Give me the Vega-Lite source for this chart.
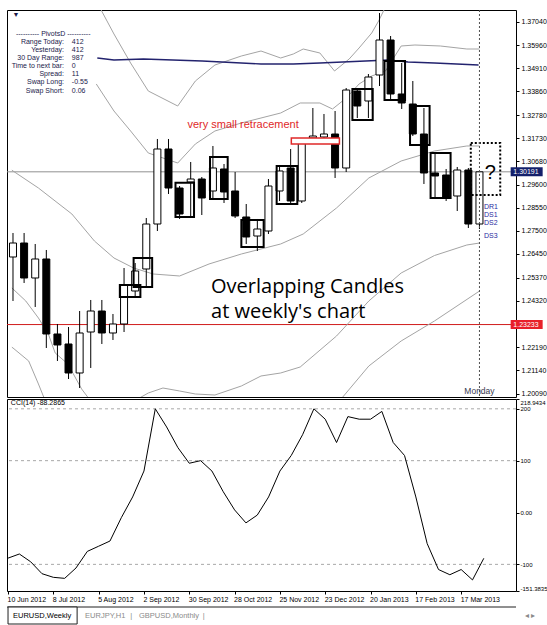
{
"$schema":"https://vega.github.io/schema/vega-lite/v6.json",
"padding":{"left":6,"top":9,"right":0,"bottom":0},
"background":"white",
"bounds":"flush",
"spacing":2,
"config":{"view":{"stroke":"black","strokeWidth":1},"font":"Liberation Sans","axis":{"labelFont":"Liberation Sans","labelFontSize":7,"labelColor":"#000000","tickColor":"#000000","tickWidth":1,"domain":false,"grid":false,"labelOverlap":false,"labelBound":false}},
"vconcat":[
{
"width":509,"height":387,
"layer":[
{"data":{"values":[{"lv":1.30191,"k":"bid"},{"lv":1.23233,"k":"red"}]},
 "mark":{"type":"rule","strokeWidth":1},
 "encoding":{"y":{"field":"lv","type":"quantitative","title":null,"scale":{"domain":[1.19932,1.37564],"nice":false,"zero":false},
    "axis":{"orient":"right","values":[1.3704,1.3596,1.3491,1.3386,1.3278,1.3173,1.3068,1.296,1.2855,1.275,1.2645,1.2537,1.2432,1.2219,1.2114,1.2009],"tickCount":100,"format":".5f","tickSize":3,"labelPadding":2,"labelOverlap":false,"labelBound":false,"labelFlush":false,"labelFontSize":7}},
  "color":{"condition":{"test":"datum.k=='red'","value":"#d01c1c"},"value":"#909090"}}},
{"data":{"values":[
{"b":"mid","i":-0.1,"p":1.3027},{"b":"mid","i":0,"p":1.30229},{"b":"mid","i":2.29,"p":1.29454},{"b":"mid","i":5.3,"p":1.2827},{"b":"mid","i":7.33,"p":1.2704},{"b":"mid","i":9.09,"p":1.26265},{"b":"mid","i":10.86,"p":1.25809},{"b":"mid","i":12.62,"p":1.25536},{"b":"mid","i":15.0,"p":1.25445},{"b":"mid","i":17.65,"p":1.25992},{"b":"mid","i":20.56,"p":1.26447},{"b":"mid","i":24.1,"p":1.26903},{"b":"mid","i":26.13,"p":1.27359},{"b":"mid","i":29.13,"p":1.28543},{"b":"mid","i":32.04,"p":1.2991},{"b":"mid","i":34.95,"p":1.30684},{"b":"mid","i":37.95,"p":1.3114},{"b":"mid","i":40.86,"p":1.31368},{"b":"mid","i":42.01,"p":1.31368},
{"b":"up2","i":7.5,"p":1.34193},{"b":"up2","i":9.09,"p":1.32962},{"b":"up2","i":10.59,"p":1.32051},{"b":"up2","i":12.18,"p":1.31049},{"b":"up2","i":14.83,"p":1.30593},{"b":"up2","i":16.42,"p":1.31459},{"b":"up2","i":18.18,"p":1.32051},{"b":"up2","i":20.56,"p":1.32416},{"b":"up2","i":22.33,"p":1.32643},{"b":"up2","i":24.1,"p":1.32871},{"b":"up2","i":25.86,"p":1.33327},{"b":"up2","i":27.63,"p":1.33327},{"b":"up2","i":28.77,"p":1.33053},{"b":"up2","i":30.01,"p":1.33555},{"b":"up2","i":31.16,"p":1.34193},{"b":"up2","i":32.3,"p":1.34557},{"b":"up2","i":33.54,"p":1.34785},{"b":"up2","i":34.95,"p":1.35924},{"b":"up2","i":36.19,"p":1.35969},{"b":"up2","i":38.48,"p":1.35924},{"b":"up2","i":40.86,"p":1.35787},{"b":"up2","i":42.01,"p":1.35787},
{"b":"up3","i":7.5,"p":1.37974},{"b":"up3","i":9.09,"p":1.36471},{"b":"up3","i":10.59,"p":1.35149},{"b":"up3","i":12.18,"p":1.33874},{"b":"up3","i":14.83,"p":1.3319},{"b":"up3","i":16.42,"p":1.34329},{"b":"up3","i":18.18,"p":1.35058},{"b":"up3","i":20.56,"p":1.35468},{"b":"up3","i":22.33,"p":1.35696},{"b":"up3","i":24.1,"p":1.35377},{"b":"up3","i":25.24,"p":1.35559},{"b":"up3","i":26.13,"p":1.35787},{"b":"up3","i":27.63,"p":1.35605},{"b":"up3","i":28.95,"p":1.34785},{"b":"up3","i":30.27,"p":1.35332},{"b":"up3","i":31.16,"p":1.35833},{"b":"up3","i":32.3,"p":1.36516},{"b":"up3","i":32.92,"p":1.37063},{"b":"up3","i":33.8,"p":1.37974},
{"b":"lo2","i":-0.1,"p":1.249},{"b":"lo2","i":0,"p":1.24853},{"b":"lo2","i":1.15,"p":1.24306},{"b":"lo2","i":2.29,"p":1.23532},{"b":"lo2","i":3.18,"p":1.22803},{"b":"lo2","i":3.8,"p":1.21937},{"b":"lo2","i":4.94,"p":1.21436},{"b":"lo2","i":6.18,"p":1.20297},{"b":"lo2","i":7.33,"p":1.19522},{"b":"lo2","i":10.59,"p":1.19659},{"b":"lo2","i":12.18,"p":1.20114},{"b":"lo2","i":13.5,"p":1.20342},{"b":"lo2","i":15.0,"p":1.20206},{"b":"lo2","i":16.42,"p":1.20069},{"b":"lo2","i":18.18,"p":1.20023},{"b":"lo2","i":20.56,"p":1.20433},{"b":"lo2","i":22.33,"p":1.20889},{"b":"lo2","i":24.1,"p":1.21026},{"b":"lo2","i":25.86,"p":1.21299},{"b":"lo2","i":29.13,"p":1.22711},{"b":"lo2","i":32.04,"p":1.24306},{"b":"lo2","i":34.95,"p":1.25582},{"b":"lo2","i":37.95,"p":1.26378},{"b":"lo2","i":40.86,"p":1.26857},{"b":"lo2","i":42.01,"p":1.26948},
{"b":"lo3","i":-0.1,"p":1.222},{"b":"lo3","i":0,"p":1.22165},{"b":"lo3","i":1.41,"p":1.21573},{"b":"lo3","i":2.29,"p":1.20525},{"b":"lo3","i":2.91,"p":1.1975},{"b":"lo3","i":29.39,"p":1.1975},{"b":"lo3","i":32.04,"p":1.21345},{"b":"lo3","i":34.95,"p":1.22484},{"b":"lo3","i":37.95,"p":1.23395},{"b":"lo3","i":42.01,"p":1.24762},
{"b":"ma","i":7.59,"p":1.35377},{"b":"ma","i":9.09,"p":1.35286},{"b":"ma","i":11.74,"p":1.35332},{"b":"ma","i":17.03,"p":1.3524},{"b":"ma","i":22.33,"p":1.35104},{"b":"ma","i":25.24,"p":1.35104},{"b":"ma","i":27.63,"p":1.35149},{"b":"ma","i":33.8,"p":1.35286},{"b":"ma","i":35.57,"p":1.35195},{"b":"ma","i":37.95,"p":1.35149},{"b":"ma","i":41.92,"p":1.35058}
]},
 "mark":{"type":"line","clip":true},
 "encoding":{"x":{"field":"i","type":"quantitative","axis":null,"title":null,"scale":{"domain":[-0.09,44.84],"nice":false,"zero":false}},"y":{"field":"p","type":"quantitative","title":null},"detail":{"field":"b"},
  "color":{"condition":{"test":"datum.b=='ma'","value":"#23236e"},"value":"#a4a4a4"},
  "strokeWidth":{"condition":{"test":"datum.b=='ma'","value":1.4},"value":1}}},
{"data":{"name":"candles","values":[
{"i":0,"o":1.26311,"h":1.27404,"l":1.24306,"c":1.26948},
{"i":1,"o":1.26948,"h":1.27404,"l":1.25126,"c":1.25354},
{"i":2,"o":1.25354,"h":1.26903,"l":1.24033,"c":1.2622},
{"i":3,"o":1.2622,"h":1.2663,"l":1.22165,"c":1.22803},
{"i":4,"o":1.22803,"h":1.23258,"l":1.21573,"c":1.22302},
{"i":5,"o":1.22347,"h":1.23121,"l":1.20752,"c":1.21026},
{"i":6,"o":1.21026,"h":1.2385,"l":1.20342,"c":1.22848},
{"i":7,"o":1.22893,"h":1.24352,"l":1.21254,"c":1.2385},
{"i":8,"o":1.2385,"h":1.24352,"l":1.22347,"c":1.22848},
{"i":9,"o":1.22848,"h":1.23714,"l":1.22529,"c":1.23258},
{"i":10,"o":1.23258,"h":1.25809,"l":1.22893,"c":1.25035},
{"i":11,"o":1.24762,"h":1.26037,"l":1.24488,"c":1.25673},
{"i":12,"o":1.25764,"h":1.28088,"l":1.24989,"c":1.27814},
{"i":13,"o":1.27814,"h":1.31687,"l":1.27495,"c":1.31231},
{"i":14,"o":1.31231,"h":1.31687,"l":1.29181,"c":1.29454},
{"i":15,"o":1.29454,"h":1.29545,"l":1.28042,"c":1.2827},
{"i":16,"o":1.29728,"h":1.30639,"l":1.28133,"c":1.29864},
{"i":17,"o":1.29864,"h":1.29955,"l":1.28224,"c":1.28999},
{"i":18,"o":1.29318,"h":1.31368,"l":1.28953,"c":1.30366},
{"i":19,"o":1.3032,"h":1.30548,"l":1.28771,"c":1.29272},
{"i":20,"o":1.29318,"h":1.30183,"l":1.28088,"c":1.28179},
{"i":21,"o":1.28133,"h":1.28725,"l":1.26903,"c":1.27222},
{"i":22,"o":1.27267,"h":1.28042,"l":1.26584,"c":1.27586},
{"i":23,"o":1.27495,"h":1.29864,"l":1.27359,"c":1.29545},
{"i":24,"o":1.29318,"h":1.30411,"l":1.28862,"c":1.30229},
{"i":25,"o":1.30366,"h":1.31231,"l":1.28771,"c":1.28862},
{"i":26,"o":1.28862,"h":1.31596,"l":1.28771,"c":1.31504},
{"i":27,"o":1.31732,"h":1.33099,"l":1.31596,"c":1.31823},
{"i":28,"o":1.31778,"h":1.32826,"l":1.31596,"c":1.31914},
{"i":29,"o":1.31914,"h":1.32962,"l":1.2991,"c":1.30366},
{"i":30,"o":1.30366,"h":1.3401,"l":1.30183,"c":1.33919},
{"i":31,"o":1.33874,"h":1.33965,"l":1.32643,"c":1.3319},
{"i":32,"o":1.33418,"h":1.34648,"l":1.32643,"c":1.34511},
{"i":33,"o":1.34603,"h":1.37427,"l":1.34101,"c":1.36197},
{"i":34,"o":1.36197,"h":1.36379,"l":1.33418,"c":1.33737},
{"i":35,"o":1.33737,"h":1.35149,"l":1.33053,"c":1.33327},
{"i":36,"o":1.33281,"h":1.34329,"l":1.31823,"c":1.31914},
{"i":37,"o":1.31914,"h":1.33099,"l":1.29637,"c":1.30138},
{"i":38,"o":1.30138,"h":1.31003,"l":1.28999,"c":1.30001},
{"i":39,"o":1.30047,"h":1.3032,"l":1.28862,"c":1.29044},
{"i":40,"o":1.2909,"h":1.30411,"l":1.28406,"c":1.30274},
{"i":41,"o":1.30274,"h":1.30366,"l":1.27632,"c":1.27814},
{"i":42,"o":1.27814,"h":1.30229,"l":1.27586,"c":1.30191}
]},
 "layer":[
 {"mark":{"type":"rule","color":"black","strokeWidth":1,"clip":true},
  "encoding":{"x":{"field":"i","type":"quantitative","title":null,"axis":null},
   "y":{"field":"l","type":"quantitative","title":null},
   "y2":{"field":"h"}}},
 {"mark":{"type":"bar","width":7,"stroke":"black","strokeWidth":1,"clip":true},
  "encoding":{"x":{"field":"i","type":"quantitative","title":null,"axis":null},
   "y":{"field":"o","type":"quantitative","title":null},"y2":{"field":"c"},
   "fill":{"condition":{"test":"datum.c >= datum.o","value":"white"},"value":"black"}}}
 ]},
{"data":{"values":[
{"x0":9.62,"x1":11.47,"p0":1.24488,"p1":1.25035},
{"x0":10.86,"x1":12.53,"p0":1.24944,"p1":1.26265},
{"x0":14.63,"x1":16.3,"p0":1.28133,"p1":1.29696},
{"x0":17.74,"x1":19.33,"p0":1.28953,"p1":1.30867},
{"x0":20.56,"x1":22.57,"p0":1.26766,"p1":1.27996},
{"x0":23.74,"x1":25.6,"p0":1.28725,"p1":1.30457},
{"x0":30.56,"x1":32.39,"p0":1.32552,"p1":1.33965},
{"x0":33.45,"x1":35.3,"p0":1.33464,"p1":1.3524},
{"x0":35.75,"x1":37.51,"p0":1.31413,"p1":1.3319},
{"x0":37.6,"x1":39.4,"p0":1.28999,"p1":1.31049}
]},
 "mark":{"type":"rect","fillOpacity":0,"stroke":"black","strokeWidth":2,"clip":true},
 "encoding":{"x":{"field":"x0","type":"quantitative","axis":null,"title":null},"x2":{"field":"x1"},"y":{"field":"p0","type":"quantitative","title":null},"y2":{"field":"p1"}}},
{"data":{"values":[{"x0":25.06,"x1":29.39,"p0":1.31459,"p1":1.31732}]},
 "mark":{"type":"rect","fill":"white","stroke":"#e02828","strokeWidth":1.5,"clip":true},
 "encoding":{"x":{"field":"x0","type":"quantitative","axis":null,"title":null},"x2":{"field":"x1"},"y":{"field":"p0","type":"quantitative","title":null},"y2":{"field":"p1"}}},
{"data":{"values":[{"x0":41.22,"x1":43.87,"p0":1.29135,"p1":1.31504}]},
 "mark":{"type":"rect","fillOpacity":0,"stroke":"black","strokeWidth":2,"strokeDash":[2,2],"clip":true},
 "encoding":{"x":{"field":"x0","type":"quantitative","axis":null,"title":null},"x2":{"field":"x1"},"y":{"field":"p0","type":"quantitative","title":null},"y2":{"field":"p1"}}},
{"data":{"values":[{"d":42}]},
 "mark":{"type":"rule","color":"#505050","strokeDash":[2,2],"strokeWidth":1},
 "encoding":{"x":{"field":"d","type":"quantitative","axis":null,"title":null}}},
{"data":{"values":[{"t":"very small retracement","i":15.71,"p":1.32325}]},
 "mark":{"type":"text","align":"left","baseline":"middle","font":"Liberation Sans","fontSize":11,"color":"#e02828"},
 "encoding":{"x":{"field":"i","type":"quantitative","axis":null,"title":null},"y":{"field":"p","type":"quantitative","title":null},"text":{"field":"t"}}},
{"data":{"values":[{"t":"Overlapping Candles","i":17.83,"p":1.2467},{"t":"at weekly's chart","i":17.83,"p":1.23532}]},
 "mark":{"type":"text","align":"left","baseline":"alphabetic","font":"Open Sans","fontSize":20,"color":"black"},
 "encoding":{"x":{"field":"i","type":"quantitative","axis":null,"title":null},"y":{"field":"p","type":"quantitative","title":null},"text":{"field":"t"}}},
{"data":{"values":[{"t":"?","i":42.98,"p":1.30115}]},
 "mark":{"type":"text","align":"center","baseline":"middle","font":"Liberation Sans","fontSize":20,"color":"black"},
 "encoding":{"x":{"field":"i","type":"quantitative","axis":null,"title":null},"y":{"field":"p","type":"quantitative","title":null},"text":{"field":"t"}}},
{"data":{"values":[{"t":"Monday","i":42.0,"p":1.20069}]},
 "mark":{"type":"text","align":"center","baseline":"alphabetic","font":"Liberation Sans","fontSize":8.5,"color":"#3a3a50"},
 "encoding":{"x":{"field":"i","type":"quantitative","axis":null,"title":null},"y":{"field":"p","type":"quantitative","title":null},"text":{"field":"t"}}},
{"data":{"values":[{"t":"▼","i":0.26,"p":1.37336},{"t":"---------- PivotsD ----------","i":3.62,"p":1.36471}]},
 "mark":{"type":"text","align":"center","baseline":"middle","font":"Liberation Sans","fontSize":7,"color":"#1a1a4a"},
 "encoding":{"x":{"field":"i","type":"quantitative","axis":null,"title":null},"y":{"field":"p","type":"quantitative","title":null},"text":{"field":"t"}}},
{"data":{"values":[
{"t":"Range Today:","i":4.59,"p":1.36092},{"t":"Yesterday:","i":4.59,"p":1.35742},{"t":"30 Day Range:","i":4.59,"p":1.35377},{"t":"Time to next bar:","i":4.59,"p":1.35013},{"t":"Spread:","i":4.59,"p":1.34648},{"t":"Swap Long:","i":4.59,"p":1.3427},{"t":"Swap Short:","i":4.59,"p":1.33887}]},
 "mark":{"type":"text","align":"right","baseline":"middle","font":"Liberation Sans","fontSize":7,"color":"#1a1a4a"},
 "encoding":{"x":{"field":"i","type":"quantitative","axis":null,"title":null},"y":{"field":"p","type":"quantitative","title":null},"text":{"field":"t"}}},
{"data":{"values":[
{"t":"412","i":5.3,"p":1.36092},{"t":"412","i":5.3,"p":1.35742},{"t":"987","i":5.3,"p":1.35377},{"t":"0","i":5.3,"p":1.35013},{"t":"11","i":5.3,"p":1.34648},{"t":"-0.55","i":5.3,"p":1.3427},{"t":"0.06","i":5.3,"p":1.33887}]},
 "mark":{"type":"text","align":"left","baseline":"middle","font":"Liberation Sans","fontSize":7,"color":"#1a1a4a"},
 "encoding":{"x":{"field":"i","type":"quantitative","axis":null,"title":null},"y":{"field":"p","type":"quantitative","title":null},"text":{"field":"t"}}},
{"data":{"values":[{"t":"DR1","p":1.28588},{"t":"DS1","p":1.28224},{"t":"DS2","p":1.2786},{"t":"DS3","p":1.27267}]},
 "mark":{"type":"text","align":"left","baseline":"middle","font":"Liberation Sans","fontSize":7,"color":"#2a2aa0","clip":true},
 "encoding":{"x":{"datum":42.4,"type":"quantitative","axis":null,"title":null},"y":{"field":"p","type":"quantitative","title":null},"text":{"field":"t"}}},
{"data":{"values":[{"lv":1.30191,"k":"bid","lab":"1.30191"},{"lv":1.23233,"k":"red","lab":"1.23233"}]},
 "layer":[
 {"mark":{"type":"tick","orient":"horizontal","size":32,"thickness":9,"opacity":1,"clip":false},
  "encoding":{"x":{"datum":46.25,"type":"quantitative","axis":null,"title":null},"y":{"field":"lv","type":"quantitative","title":null},
   "color":{"condition":{"test":"datum.k=='red'","value":"#e8202a"},"value":"#14206b"}}},
 {"mark":{"type":"text","align":"left","baseline":"middle","font":"Liberation Sans","fontSize":7,"color":"white","clip":false},
  "encoding":{"x":{"datum":45.05,"type":"quantitative","axis":null,"title":null},"y":{"field":"lv","type":"quantitative","title":null},"text":{"field":"lab"}}}
 ]}
]
},
{
"width":509,"height":192,
"layer":[
{"data":{"values":[{"lv":200},{"lv":100},{"lv":-100}]},
 "mark":{"type":"rule","color":"#a8a8a8","strokeDash":[3,3],"strokeWidth":1},
 "encoding":{"y":{"field":"lv","type":"quantitative","title":null,"scale":{"domain":[-151.3835,218.9434],"nice":false,"zero":false},
   "axis":{"orient":"right","values":[218.9434,200,100,0,-100,-151.3835],"tickCount":100,"labelExpr":"datum.value==0?'0.00':toString(datum.value)","tickSize":3,"labelPadding":1,"labelFontSize":6,"labelOverlap":false,"labelBound":false,"labelFlush":true}}}},
{"data":{"values":[
{"i":0,"v":-88},{"i":1,"v":-80},{"i":2,"v":-95},{"i":3,"v":-118},{"i":4,"v":-125},{"i":5,"v":-127},{"i":6,"v":-107},{"i":7,"v":-75},{"i":8,"v":-65},{"i":9,"v":-55},{"i":10,"v":-10},{"i":11,"v":30},{"i":12,"v":80},{"i":13,"v":200},{"i":14,"v":165},{"i":15,"v":125},{"i":16,"v":95},{"i":17,"v":100},{"i":18,"v":80},{"i":19,"v":40},{"i":20,"v":5},{"i":21,"v":-20},{"i":22,"v":-5},{"i":23,"v":30},{"i":24,"v":80},{"i":25,"v":110},{"i":26,"v":150},{"i":27,"v":200},{"i":28,"v":180},{"i":29,"v":135},{"i":30,"v":185},{"i":31,"v":180},{"i":32,"v":180},{"i":33,"v":195},{"i":34,"v":135},{"i":35,"v":110},{"i":36,"v":30},{"i":37,"v":-60},{"i":38,"v":-110},{"i":39,"v":-120},{"i":40,"v":-110},{"i":41,"v":-130},{"i":42,"v":-88.2865}
]},
 "mark":{"type":"line","color":"black","strokeWidth":1,"clip":true},
 "encoding":{
  "x":{"field":"i","type":"quantitative","title":null,"scale":{"domain":[-0.09,44.84],"nice":false,"zero":false},
   "axis":{"orient":"bottom","values":[0,4,8,12,16,20,24,28,32,36,40],"tickCount":100,"labelExpr":"utcFormat(utc(2012,5,10+7*datum.value),'%-d %b %Y')","labelAlign":"left","labelOffset":-1,"tickSize":3,"labelPadding":1,"labelOverlap":false,"labelBound":false,"labelFlush":false}},
  "y":{"field":"v","type":"quantitative","title":null}}},
{"data":{"values":[{"t":"CCI(14) -88.2865","i":0.25,"v":211}]},
 "mark":{"type":"text","align":"left","baseline":"middle","font":"Liberation Sans","fontSize":7,"color":"black"},
 "encoding":{"x":{"field":"i","type":"quantitative","title":null},"y":{"field":"v","type":"quantitative","title":null},"text":{"field":"t"}}}
]
},
{
"width":509,"height":33,
"view":{"stroke":null},
"layer":[
{"data":{"values":[{"y":14}]},
 "mark":{"type":"rule","color":"#202020","strokeWidth":1},
 "encoding":{"y":{"field":"y","type":"quantitative","title":null,"axis":null,"scale":{"domain":[0,33],"reverse":true,"nice":false,"zero":false}}}},
{"data":{"values":[{"x0":0,"x1":6.1,"y0":14,"y1":31}]},
 "mark":{"type":"rect","fill":"white","stroke":"#202020","strokeWidth":1},
 "encoding":{"x":{"field":"x0","type":"quantitative","axis":null,"title":null,"scale":{"domain":[-0.09,44.84],"nice":false,"zero":false}},"x2":{"field":"x1"},"y":{"field":"y0","type":"quantitative","title":null},"y2":{"field":"y1"}}},
{"data":{"values":[{"t":"EURUSD,Weekly","i":0.44,"y":22.5,"k":"sel"},{"t":"EURJPY,H1","i":6.8,"y":22.5,"k":"o"},{"t":"|","i":10.8,"y":22.5,"k":"o"},{"t":"GBPUSD,Monthly","i":11.56,"y":22.5,"k":"o"},{"t":"|","i":17.2,"y":22.5,"k":"o"},{"t":"◂   ▸","i":45.6,"y":22.5,"k":"o"}]},
 "mark":{"type":"text","align":"left","baseline":"middle","font":"Liberation Sans","fontSize":7.5},
 "encoding":{"x":{"field":"i","type":"quantitative","axis":null,"title":null},"y":{"field":"y","type":"quantitative","title":null},"text":{"field":"t"},
  "color":{"condition":{"test":"datum.k=='sel'","value":"#000000"},"value":"#8a8a8a"}}}
]
}
]
}
